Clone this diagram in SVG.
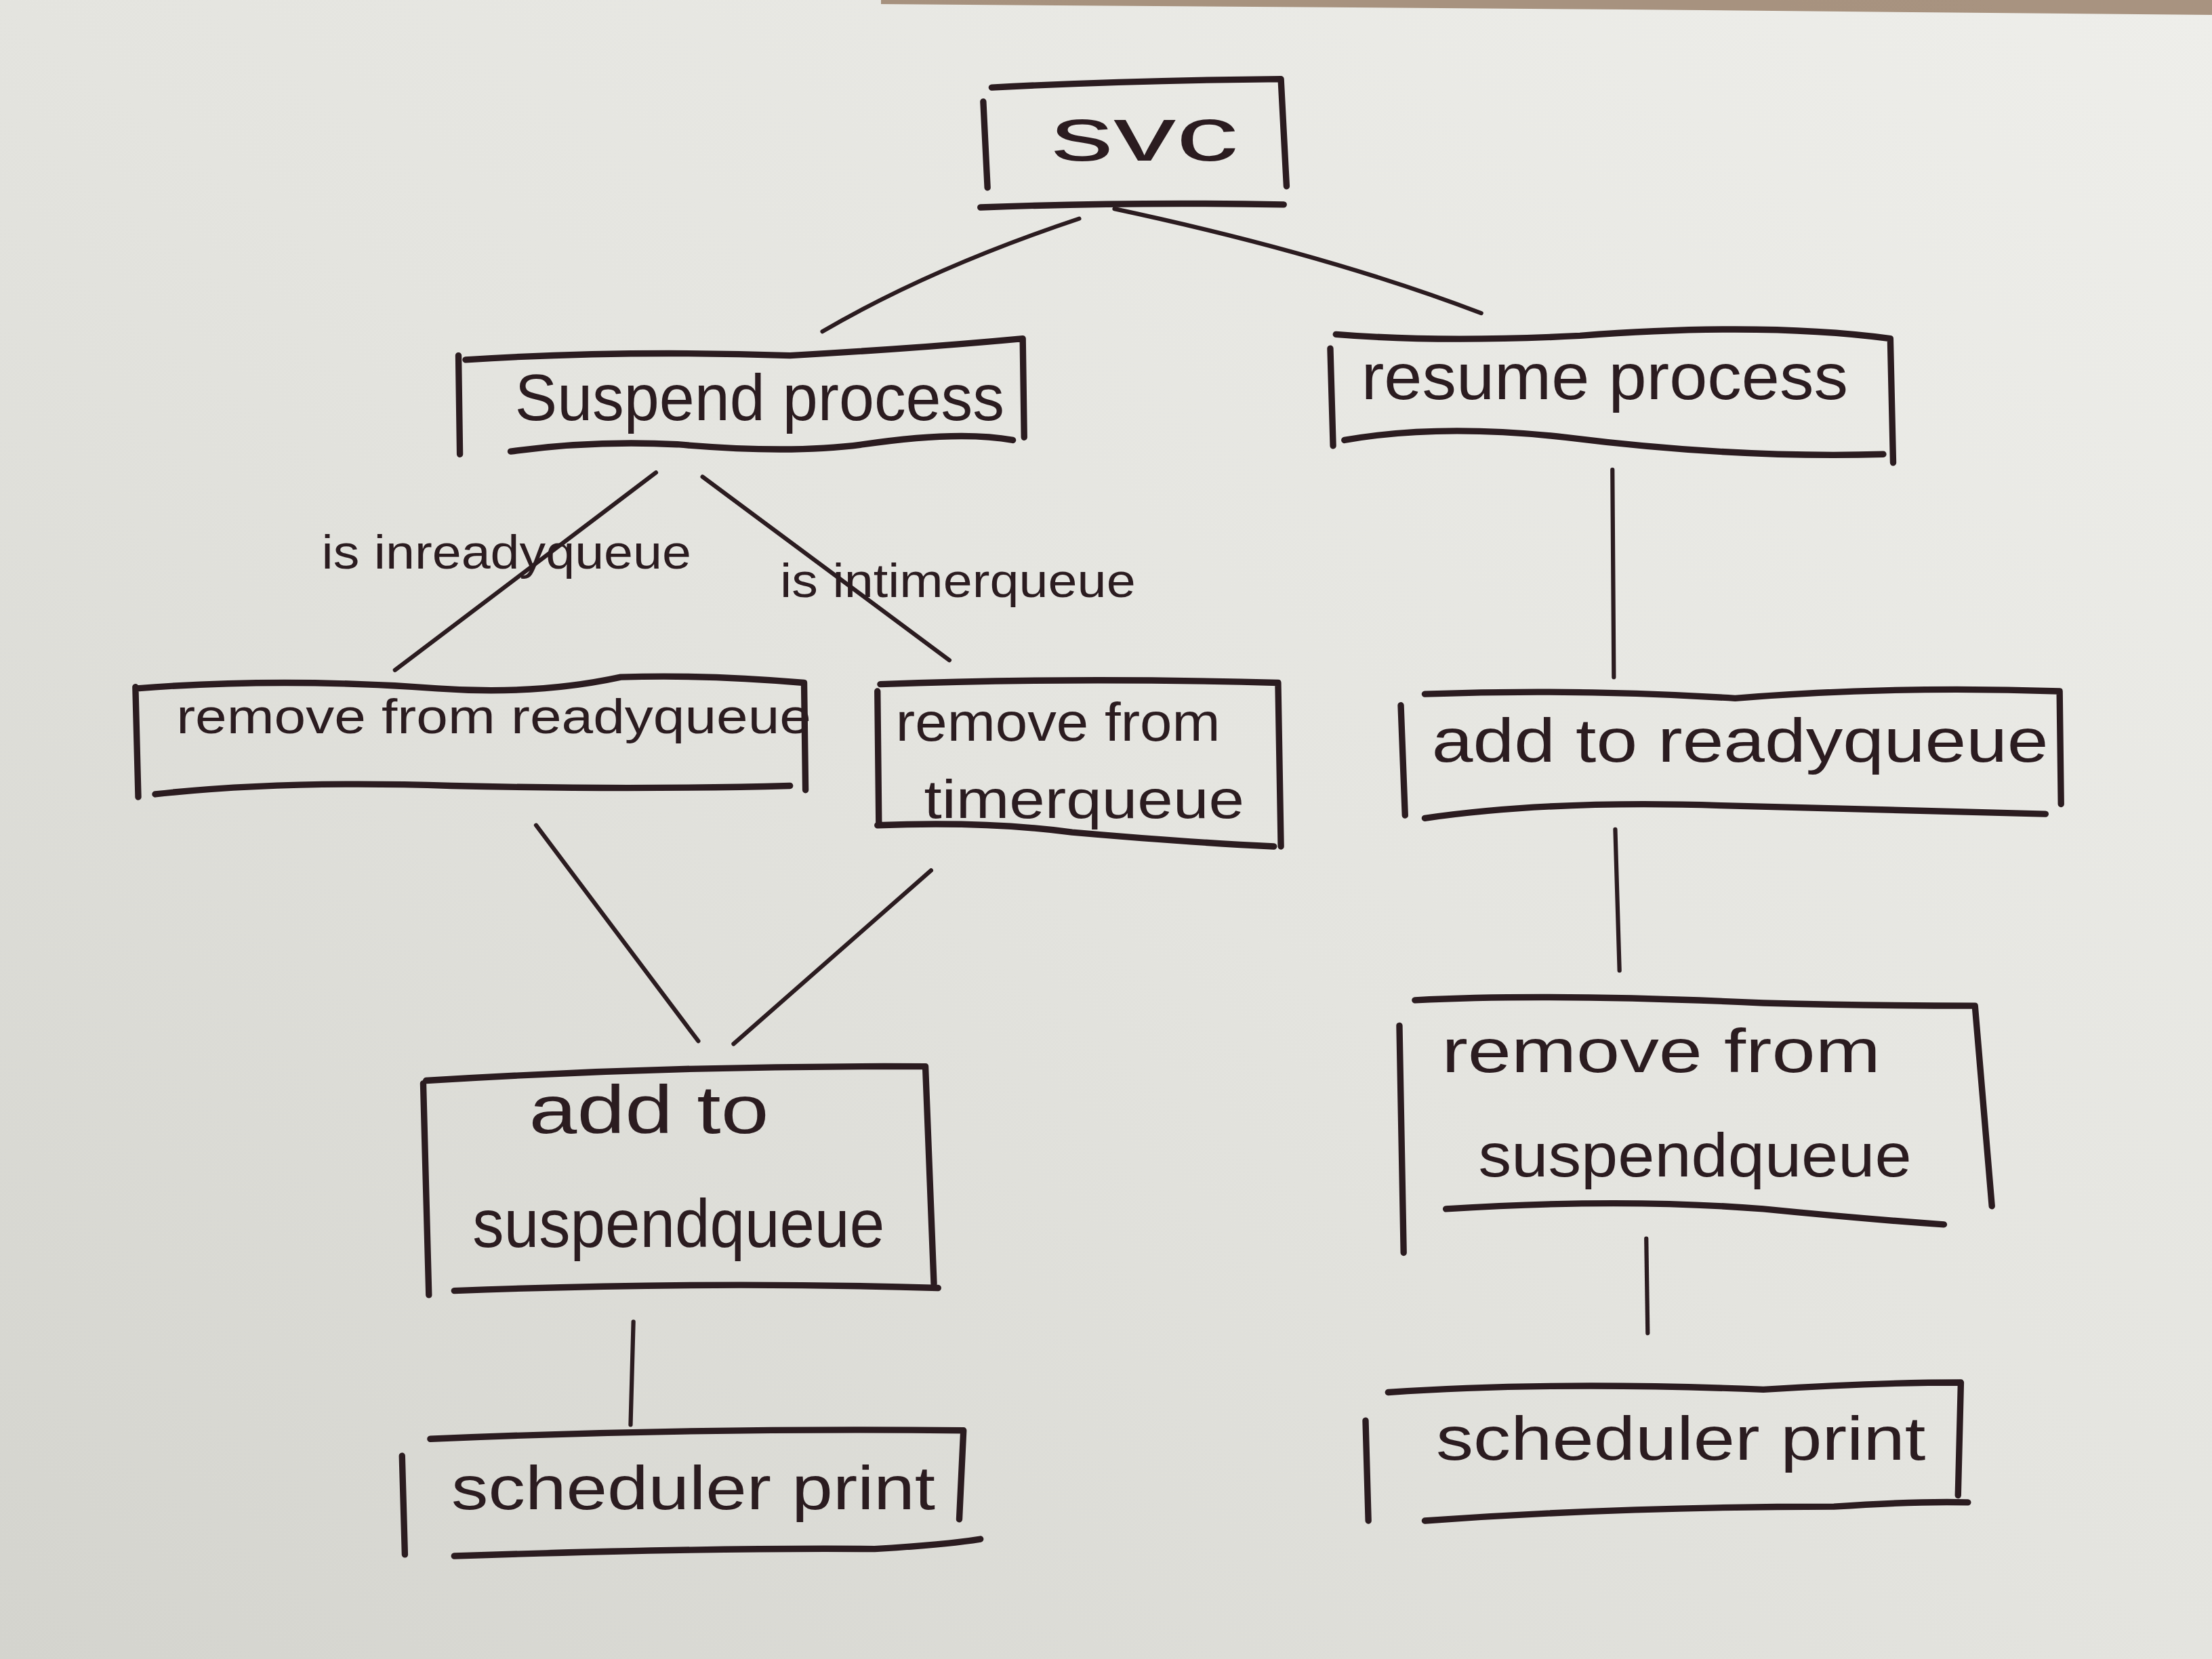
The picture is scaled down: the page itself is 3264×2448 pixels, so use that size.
<svg xmlns="http://www.w3.org/2000/svg" width="3264" height="2448" viewBox="0 0 3264 2448">
<defs>
<linearGradient id="paper" x1="1" y1="0" x2="0" y2="1">
<stop offset="0" stop-color="#eeeeea"/>
<stop offset="0.5" stop-color="#e4e4df"/>
<stop offset="1" stop-color="#d4d4ce"/>
</linearGradient>
<style>
.ink{fill:none;stroke:#2b1c20;stroke-linecap:round;stroke-linejoin:round}
.box{stroke-width:4.5}
.con{stroke-width:3}
.t{font-family:"Liberation Sans","DejaVu Sans",sans-serif;fill:#2b1c20;font-weight:normal}
</style>
</defs>
<rect width="3264" height="2448" fill="url(#paper)"/>
<path d="M1300 0 L3264 0 L3264 22 L2400 14 L1300 6 Z" fill="#8a6c52" opacity="0.7"/>
<g transform="scale(2.0816)">
<g id="connectors" class="ink con">
<path d="M765 155 Q660 190 583 235"/>
<path d="M790 148 Q940 180 1050 222"/>
<path d="M465 335 L280 475"/>
<path d="M498 338 L673 468"/>
<path d="M380 585 L495 738"/>
<path d="M660 617 L520 740"/>
<path d="M449 937 L447 1010"/>
<path d="M1143 333 L1144 480"/>
<path d="M1145 588 L1148 688"/>
<path d="M1167 878 L1168 945"/>
</g>
<g id="label-ready">
<text class="t" x="228" y="403" font-size="34" textLength="262" lengthAdjust="spacingAndGlyphs">is inreadyqueue</text>
</g>
<g id="label-timer">
<text class="t" x="553" y="423" font-size="34" textLength="252" lengthAdjust="spacingAndGlyphs">is intimerqueue</text>
</g>
<g id="svc">
<path class="ink box" d="M697 72 L700 133 M703 62 Q800 57 908 56 L912 132 M695 147 Q800 143 910 145"/>
<text class="t" x="745" y="114" font-size="54" textLength="133" lengthAdjust="spacingAndGlyphs">svc</text>
</g>
<g id="suspend">
<path class="ink box" d="M325 252 L326 322 M330 255 Q440 248 560 252 Q650 247 725 240 L726 310 M362 320 Q420 312 480 315 Q560 322 612 315 Q680 305 718 312"/>
<text class="t" x="365" y="298" font-size="46" textLength="347" lengthAdjust="spacingAndGlyphs">Suspend process</text>
</g>
<g id="resume">
<path class="ink box" d="M943 247 L945 316 M947 237 Q1020 243 1120 238 Q1250 228 1340 240 L1342 328 M953 312 Q1020 300 1110 310 Q1230 325 1335 322"/>
<text class="t" x="965" y="283" font-size="46" textLength="345" lengthAdjust="spacingAndGlyphs">resume process</text>
</g>
<g id="remove-ready">
<path class="ink box" d="M96 487 L98 565 M97 488 Q200 480 310 488 Q380 493 440 480 Q500 478 570 484 L571 560 M110 563 Q200 553 320 557 Q450 560 560 557"/>
<text class="t" x="125" y="520" font-size="35" textLength="450" lengthAdjust="spacingAndGlyphs">remove from readyqueue</text>
</g>
<g id="remove-timer">
<path class="ink box" d="M622 490 L623 585 M624 485 Q760 480 906 484 L908 600 M622 585 Q700 582 760 590 Q840 597 903 600"/>
<text class="t" x="635" y="525" font-size="38" textLength="230" lengthAdjust="spacingAndGlyphs">remove from</text>
<text class="t" x="655" y="580" font-size="38" textLength="227" lengthAdjust="spacingAndGlyphs">timerqueue</text>
</g>
<g id="add-suspend">
<path class="ink box" d="M300 768 L304 918 M302 766 Q480 755 656 756 L662 910 M322 915 Q500 908 665 913"/>
<text class="t" x="375" y="803" font-size="48" textLength="170" lengthAdjust="spacingAndGlyphs">add to</text>
<text class="t" x="335" y="884" font-size="48" textLength="292" lengthAdjust="spacingAndGlyphs">suspendqueue</text>
</g>
<g id="sched-left">
<path class="ink box" d="M285 1032 L287 1102 M305 1020 Q490 1012 683 1014 L680 1077 M322 1103 Q500 1097 620 1098 Q670 1095 695 1091"/>
<text class="t" x="320" y="1070" font-size="44" textLength="343" lengthAdjust="spacingAndGlyphs">scheduler print</text>
</g>
<g id="add-ready">
<path class="ink box" d="M993 500 L996 578 M1010 492 Q1120 488 1230 495 Q1340 486 1460 490 L1461 570 M1010 580 Q1100 567 1220 571 Q1340 574 1450 577"/>
<text class="t" x="1015" y="540" font-size="44" textLength="437" lengthAdjust="spacingAndGlyphs">add to readyqueue</text>
</g>
<g id="remove-suspend">
<path class="ink box" d="M992 727 L995 888 M1003 709 Q1100 704 1250 711 Q1330 713 1400 713 L1412 855 M1025 857 Q1150 849 1250 857 Q1320 864 1378 868"/>
<text class="t" x="1022" y="760" font-size="44" textLength="311" lengthAdjust="spacingAndGlyphs">remove from</text>
<text class="t" x="1048" y="834" font-size="44" textLength="307" lengthAdjust="spacingAndGlyphs">suspendqueue</text>
</g>
<g id="sched-right">
<path class="ink box" d="M968 1007 L970 1078 M984 987 Q1100 979 1250 985 Q1330 980 1390 980 L1388 1060 M1010 1078 Q1150 1068 1300 1068 Q1360 1064 1395 1065"/>
<text class="t" x="1018" y="1035" font-size="44" textLength="347" lengthAdjust="spacingAndGlyphs">scheduler print</text>
</g>
</g>
</svg>
